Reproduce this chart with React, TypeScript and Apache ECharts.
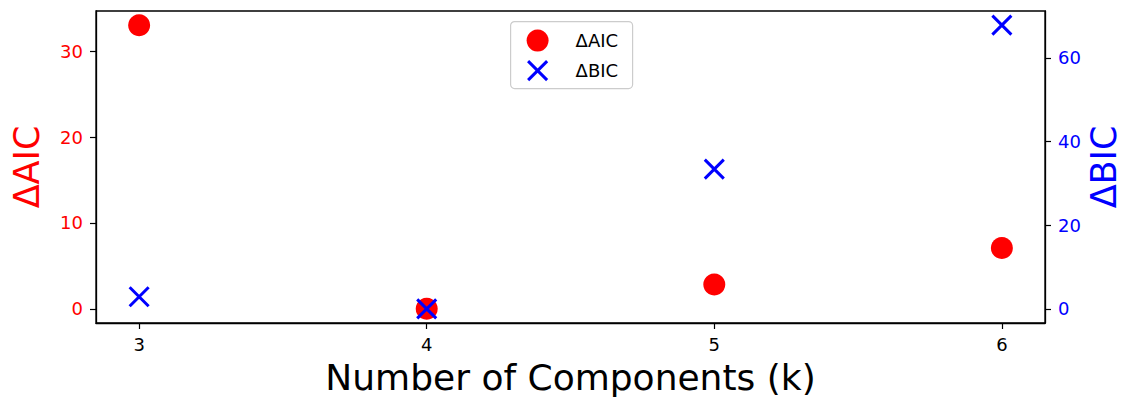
import React, { useEffect, useRef } from "react";
import * as echarts from "echarts";

// Number of mixture components and the information-criterion differences
const components = [3, 4, 5, 6];
const deltaAIC = [33.04, 0, 2.84, 7.09];
const deltaBIC = [2.9, 0, 33.4, 67.8];

const xTicks = [3, 4, 5, 6];
const aicTicks = [0, 10, 20, 30];
const bicTicks = [0, 20, 40, 60];

const FONT = "DejaVu Sans";
const RED = "#ff0000";
const BLUE = "#0000ff";

// matplotlib-like 5% padding around the data range
const pad = (vals: number[]) => {
  const lo = Math.min(...vals);
  const hi = Math.max(...vals);
  const m = (hi - lo) * 0.05;
  return { min: lo - m, max: hi + m };
};

export default function App() {
  const ref = useRef<HTMLDivElement>(null);

  useEffect(() => {
    if (!ref.current) return;
    const chart = echarts.init(ref.current, undefined, { renderer: "svg" });

    const xr = pad(components);
    const ar = pad(deltaAIC);
    const br = pad(deltaBIC);

    const tickStyle = { show: true, length: 6, lineStyle: { color: "#000", width: 1.2 } };

    chart.setOption({
      animation: false,
      backgroundColor: "#fff",
      grid: {
        left: 96,
        right: 80,
        top: 11,
        bottom: 75,
        outerBoundsMode: "none",
        containLabel: false,
        show: true,
        borderColor: "#000",
        borderWidth: 1.3,
        backgroundColor: "transparent",
      },
      xAxis: {
        type: "value",
        min: xr.min,
        max: xr.max,
        name: "Number of Components (k)",
        nameLocation: "middle",
        nameGap: 36,
        nameMoveOverlap: false,
        nameTextStyle: { fontFamily: FONT, fontSize: 36, color: "#000" },
        axisLine: { show: true, onZero: false, lineStyle: { color: "#000", width: 1.3 } },
        axisTick: { ...tickStyle, customValues: xTicks },
        axisLabel: {
          customValues: xTicks,
          fontFamily: FONT,
          fontSize: 18,
          color: "#000",
          margin: 12,
        },
        splitLine: { show: false },
      },
      yAxis: [
        {
          type: "value",
          position: "left",
          min: ar.min,
          max: ar.max,
          name: "ΔAIC",
          nameLocation: "middle",
          nameGap: 52,
          nameMoveOverlap: false,
          nameTextStyle: { fontFamily: FONT, fontSize: 35, color: RED },
          axisLine: { show: true, onZero: false, lineStyle: { color: "#000", width: 1.3 } },
          axisTick: { ...tickStyle, customValues: aicTicks },
          axisLabel: {
            customValues: aicTicks,
            fontFamily: FONT,
            fontSize: 18,
            color: RED,
            margin: 13,
          },
          splitLine: { show: false },
        },
        {
          type: "value",
          position: "right",
          min: br.min,
          max: br.max,
          name: "ΔBIC",
          nameLocation: "middle",
          nameGap: 43,
          nameMoveOverlap: false,
          nameTextStyle: { fontFamily: FONT, fontSize: 35, lineHeight: 32, color: BLUE },
          axisLine: { show: true, onZero: false, lineStyle: { color: "#000", width: 1.3 } },
          axisTick: { ...tickStyle, customValues: bicTicks },
          axisLabel: {
            customValues: bicTicks,
            fontFamily: FONT,
            fontSize: 18,
            color: BLUE,
            margin: 13,
          },
          splitLine: { show: false },
        },
      ],
      series: [
        {
          name: "ΔAIC",
          type: "scatter",
          yAxisIndex: 0,
          symbol: "circle",
          symbolSize: 22,
          itemStyle: { color: RED, opacity: 1 },
          data: components.map((k, i) => [k, deltaAIC[i]]),
          z: 2,
        },
        {
          name: "ΔBIC",
          type: "scatter",
          yAxisIndex: 1,
          symbol: "path://M0 0L10 10M10 0L0 10",
          symbolSize: 19,
          itemStyle: { color: "transparent", borderColor: BLUE, borderWidth: 3, opacity: 1 },
          data: components.map((k, i) => [k, deltaBIC[i]]),
          z: 3,
        },
      ],
      graphic: [
        {
          type: "group",
          left: 510,
          top: 21,
          children: [
            {
              type: "rect",
              shape: { x: 0, y: 0, width: 122, height: 67, r: 4 },
              style: { fill: "rgba(255,255,255,0.8)", stroke: "#cccccc", lineWidth: 1.2 },
            },
            {
              type: "circle",
              shape: { cx: 27, cy: 19, r: 11 },
              style: { fill: RED },
            },
            {
              type: "line",
              shape: { x1: 17.5, y1: 39.5, x2: 36.5, y2: 58.5 },
              style: { stroke: BLUE, lineWidth: 3 },
            },
            {
              type: "line",
              shape: { x1: 17.5, y1: 58.5, x2: 36.5, y2: 39.5 },
              style: { stroke: BLUE, lineWidth: 3 },
            },
            {
              type: "text",
              x: 65,
              y: 19,
              style: {
                text: "ΔAIC",
                fontFamily: FONT,
                fontSize: 18,
                fill: "#000",
                verticalAlign: "middle",
              },
            },
            {
              type: "text",
              x: 65,
              y: 49,
              style: {
                text: "ΔBIC",
                fontFamily: FONT,
                fontSize: 18,
                fill: "#000",
                verticalAlign: "middle",
              },
            },
          ],
        },
      ],
    });

    return () => chart.dispose();
  }, []);

  return (
    <div
      ref={ref}
      style={{ position: "fixed", left: 0, top: 0, width: 1125, height: 398 }}
    />
  );
}
